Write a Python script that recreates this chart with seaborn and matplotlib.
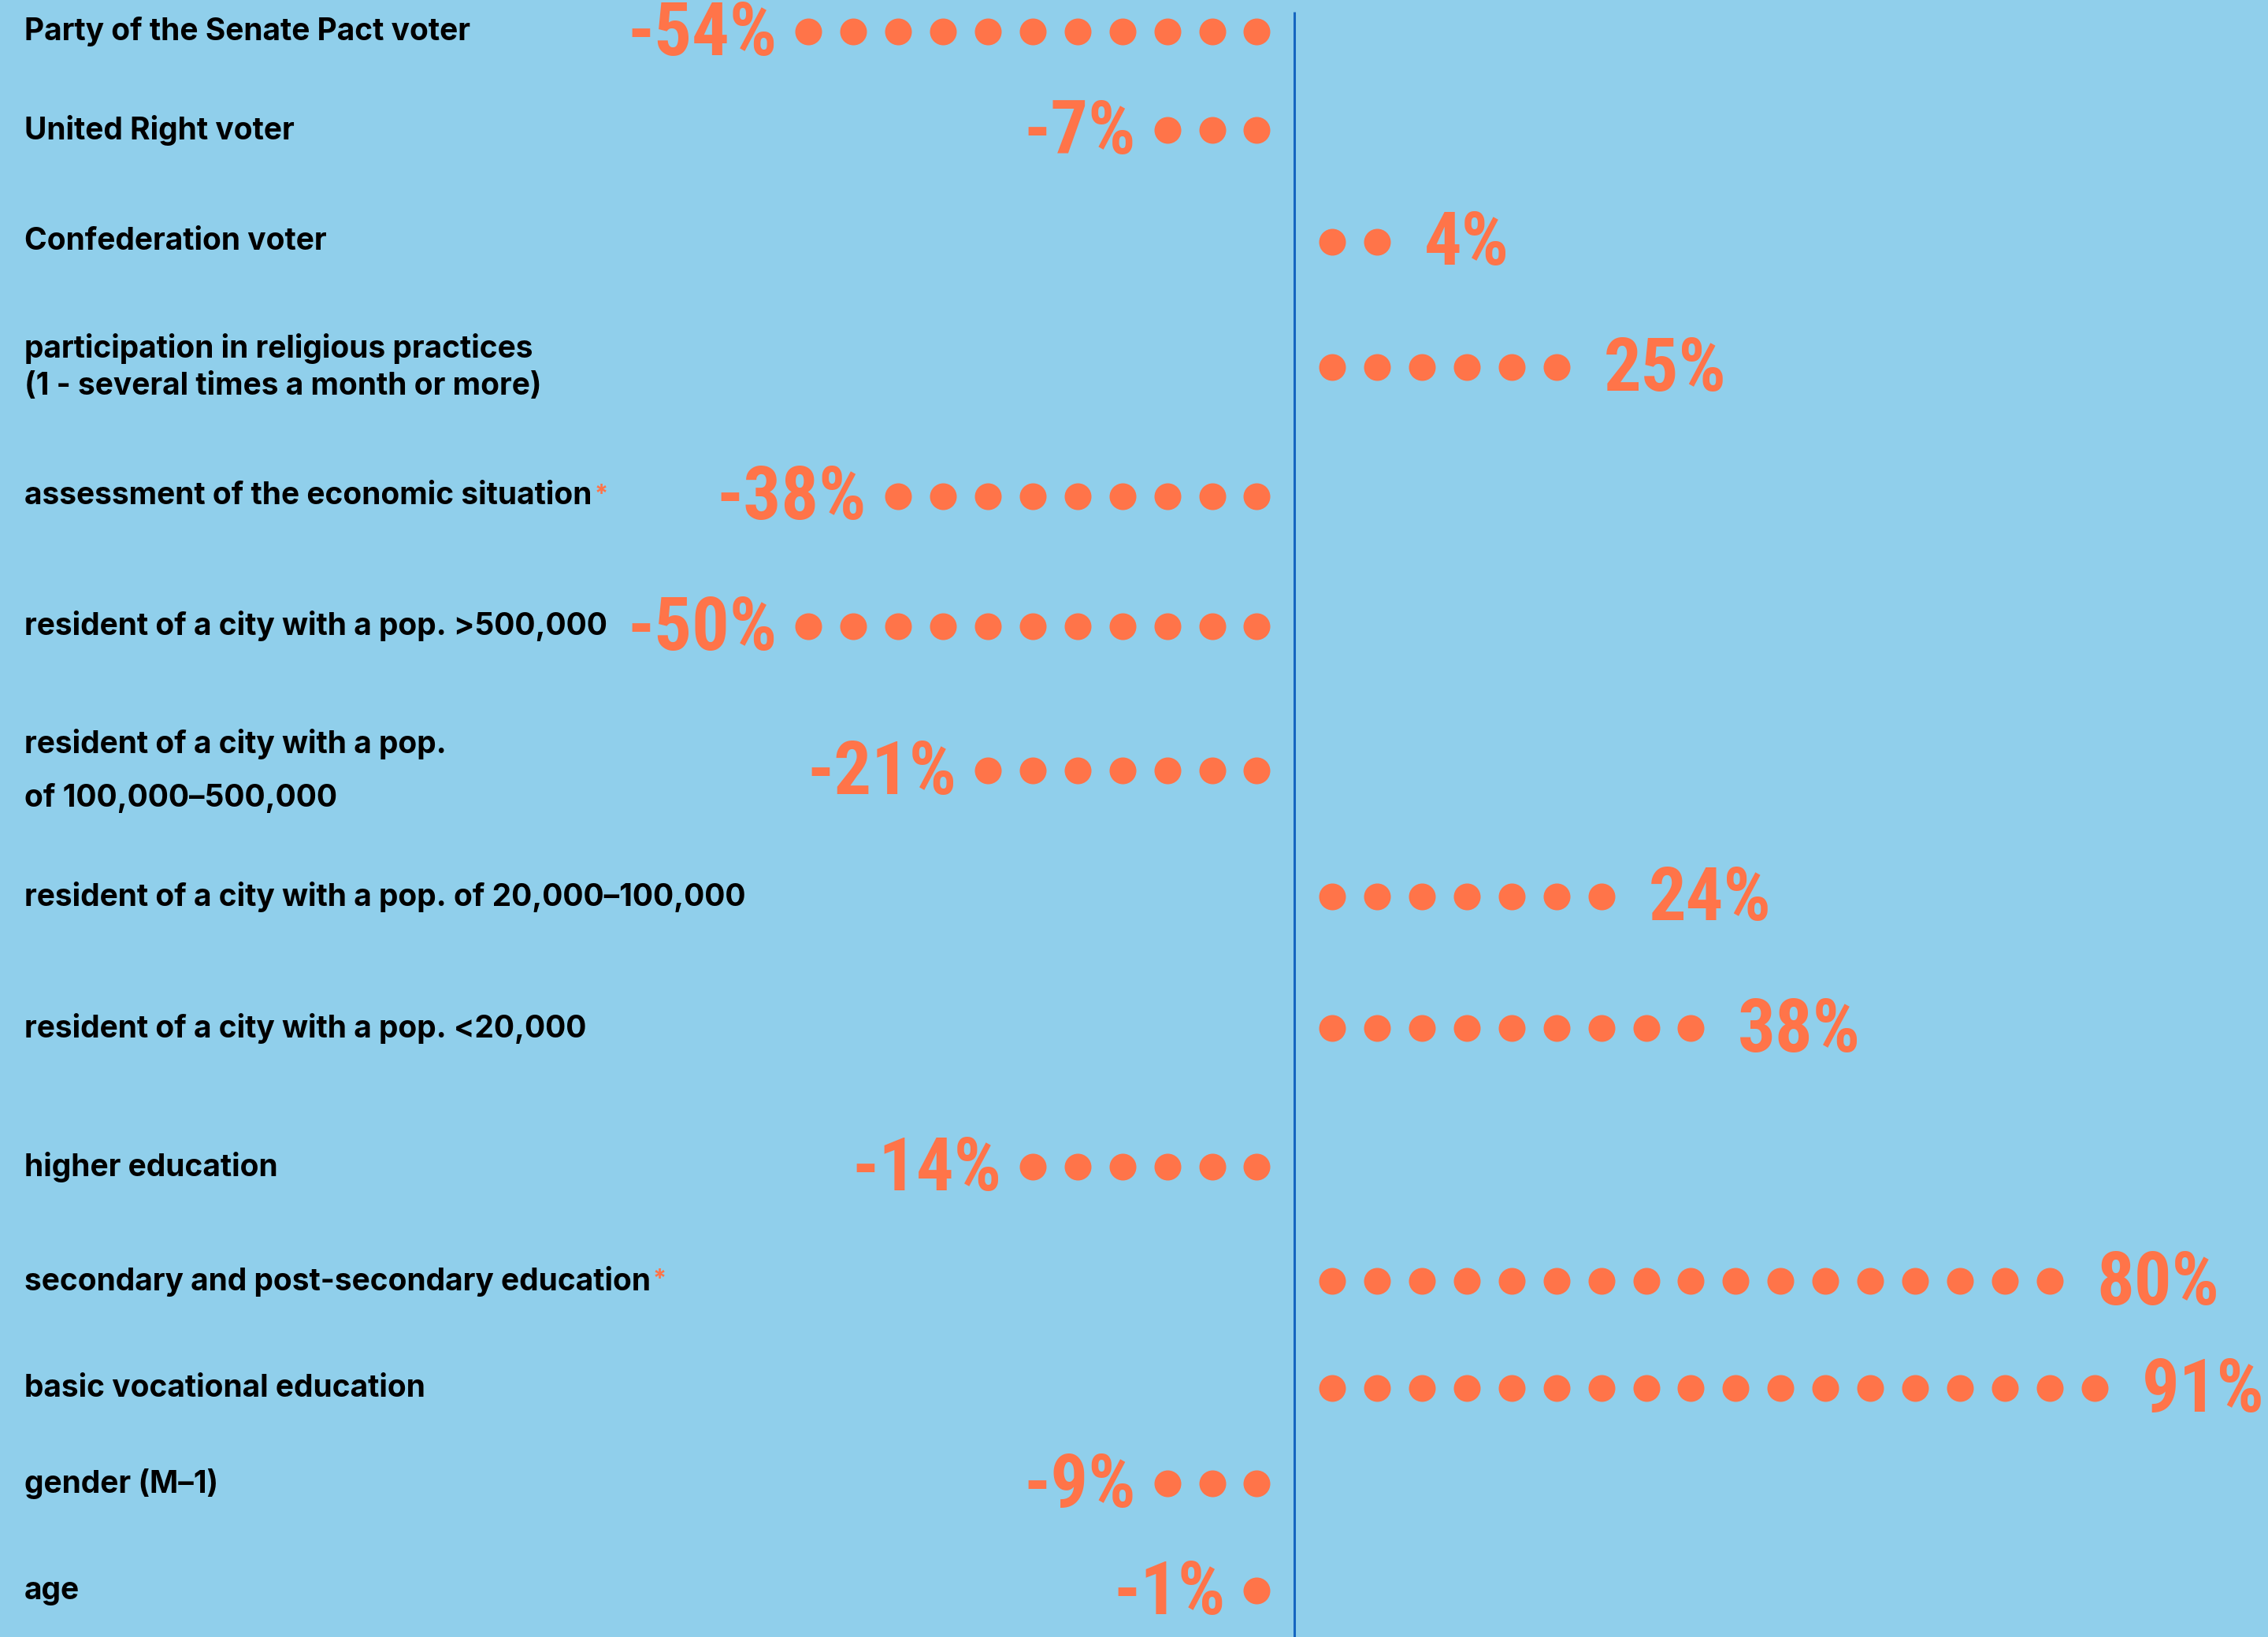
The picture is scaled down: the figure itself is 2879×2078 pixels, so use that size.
import matplotlib
matplotlib.use("Agg")
import matplotlib.pyplot as plt
import matplotlib.transforms as mtransforms
from matplotlib import font_manager
import numpy as np
import pandas as pd
import seaborn as sns

# ---- data -------------------------------------------------------------
categories = [
    "Party of the Senate Pact voter",
    "United Right voter",
    "Confederation voter",
    "participation in religious practices\n(1 - several times a month or more)",
    "assessment of the economic situation",
    "resident of a city with a pop. >500,000",
    "resident of a city with a pop.\nof 100,000\u2013500,000",
    "resident of a city with a pop. of 20,000\u2013100,000",
    "resident of a city with a pop. <20,000",
    "higher education",
    "secondary and post-secondary education",
    "basic vocational education",
    "gender (M\u20131)",
    "age",
]
values = [-54, -7, 4, 25, -38, -50, -21, 24, 38, -14, 80, 91, -9, -1]
dot_counts = [11, 3, 2, 6, 9, 11, 7, 7, 9, 6, 17, 18, 3, 1]
starred = [False, False, False, False, True, False, False, False, False, False,
           True, False, False, False]

# ---- layout -----------------------------------------------------------
row_y = [22, 90, 167, 254, 343, 433, 533, 620, 711, 807, 886, 960, 1026, 1100]
line_spacing = [1.2, 1.2, 1.2, 1.35, 1.2, 1.2, 2.0, 1.2, 1.2, 1.2, 1.2, 1.2, 1.2, 1.2]
W, H = 1568, 1132          # layout canvas units
axis_x = 895               # position of the zero line
step = 31                  # distance between dots
first_gap = 0.16           # first dot sits (1 - first_gap) steps from the line

BG = "#90CFEB"
ORANGE = "#FF7449"
LINE = "#1565C0"


def pick_font(candidates):
    names = {f.name for f in font_manager.fontManager.ttflist}
    for c in candidates:
        if c in names:
            return c
    return "DejaVu Sans"


NUM_FONT = pick_font(["Liberation Sans Narrow", "Roboto Condensed", "Roboto"])
num_size = 34 if NUM_FONT in ("Liberation Sans Narrow", "Roboto Condensed") else 28

sns.set_theme(style="white")
plt.rcParams["font.family"] = ["Inter", "DejaVu Sans"]

fig = plt.figure(figsize=(2879 / 200, 2078 / 200), dpi=200, facecolor=BG)
ax = fig.add_axes([0, 0, 1, 1])
ax.set_facecolor(BG)

# x measured in dot steps from the zero line
ax.set_xlim(-axis_x / step, (W - axis_x) / step)
ax.set_ylim(H, 0)
ax.set_axis_off()

# one row per dot
rows = []
for cat, v, n, y in zip(categories, values, dot_counts, row_y):
    sign = np.sign(v)
    for k in range(1, n + 1):
        rows.append({"category": cat, "x": sign * (k - first_gap), "y": y})
dots = pd.DataFrame(rows)

sns.scatterplot(data=dots, x="x", y="y", ax=ax, color=ORANGE, s=150,
                linewidth=0, legend=False, zorder=3)

ax.plot([0, 0], [8, H], color=LINE, lw=1.1, zorder=2, solid_capstyle="butt")

# category labels
label_tf = mtransforms.blended_transform_factory(ax.transAxes, ax.transData)
for cat, y, ls, star in zip(categories, row_y, line_spacing, starred):
    t = ax.text(17 / W, y, cat, transform=label_tf, ha="left", va="center",
                fontsize=14.0, fontweight="bold", color="black", linespacing=ls)
    if star:
        ax.annotate("*", xy=(1, 1), xycoords=t, xytext=(1, -1),
                    textcoords="offset points", ha="left", va="top",
                    fontsize=11, fontweight="bold", color=ORANGE)

# value labels
for v, n, y in zip(values, dot_counts, row_y):
    last = n - first_gap
    if v < 0:
        x, ha = -(last + 0.7), "right"
    else:
        x, ha = last + 1.05, "left"
    ax.text(x, y + 2, f"{v}%", ha=ha, va="center", fontsize=num_size,
            fontweight="bold", color=ORANGE, family=[NUM_FONT, "DejaVu Sans"])

fig.savefig("out.png", dpi=200, facecolor=BG)
